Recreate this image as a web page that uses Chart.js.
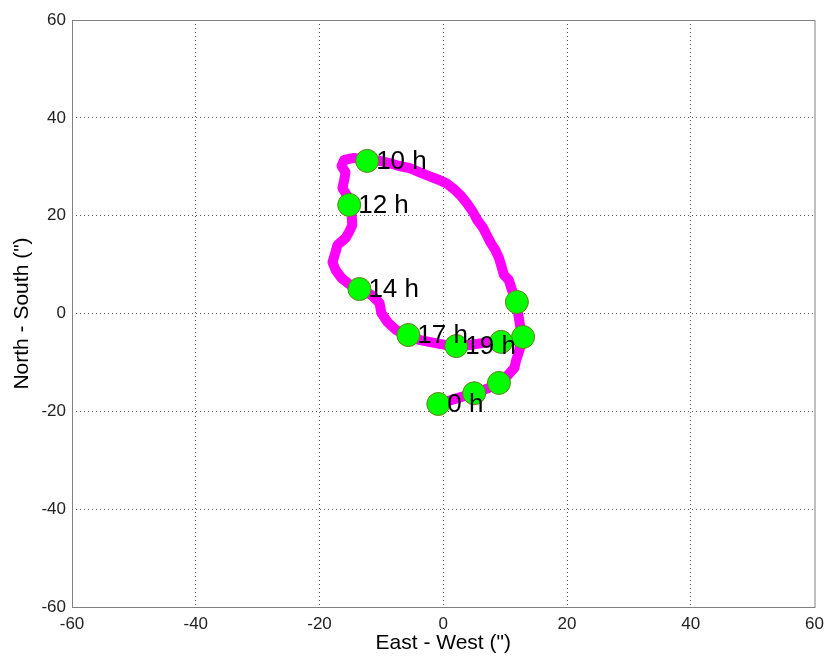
<!DOCTYPE html>
<html>
<head>
<meta charset="utf-8">
<script src="https://cdn.jsdelivr.net/npm/chart.js@4.4.0/dist/chart.umd.min.js"></script>
<style>
  html, body { margin: 0; padding: 0; background: #fff; }
  #wrap { width: 827px; height: 660px; }
</style>
</head>
<body>
<div id="wrap"><canvas id="chart" width="827" height="660"></canvas></div>
<script>
// track of the position (arcsec)
const pathX = [-0.8, 2.3, 5.0, 7.4, 9.0, 10.3, 11.5, 11.8, 12.3, 12.9, 12.4, 12.1, 11.9, 11.1, 10.6, 9.8, 9.35, 9.0,
  8.4, 7.7, 7.1, 6.45, 5.5, 4.8, 3.9, 2.9, 1.9, 0.65, -0.65, -2.3, -3.9, -5.5, -7.1, -8.7, -10.3, -12.3,
  -14.4, -16.0, -16.45, -15.8, -16.0, -16.3, -15.5, -15.2, -14.8, -14.7, -15.2, -15.8, -17.1, -17.4, -17.9,
  -17.4, -16.45, -15.2, -13.55, -11.6, -10.3, -10.0, -9.0, -7.6, -5.65, -3.9, -1.45, 0.5, 2.1, 4.2, 6.6, 9.35];
const pathY = [-18.5, -17.3, -16.3, -15.2, -14.2, -12.8, -11.1, -9.5, -7.5, -4.8, -2.4, 0.1, 2.35, 4.8, 6.85, 7.9, 9.9, 11.35,
  13.0, 14.4, 15.85, 17.5, 19.1, 20.75, 22.4, 24.0, 25.25, 26.5, 27.3, 28.1, 28.9, 29.75, 30.15, 30.75, 31.2, 31.2,
  31.8, 31.4, 30.15, 28.9, 27.3, 25.65, 24.0, 22.2, 20.1, 18.1, 16.7, 15.4, 14.0, 12.6, 10.5,
  8.9, 7.25, 6.0, 5.0, 3.8, 2.15, 0.1, -1.75, -3.4, -4.4, -5.4, -6.0, -6.45, -6.65, -6.45, -6.0, -5.8];

// hour markers
const markerX = [-0.8, 5.0, 9.0, 12.9, 11.9, -12.3, -15.2, -13.55, -5.65, 2.1, 9.35];
const markerY = [-18.5, -16.3, -14.2, -4.8, 2.35, 31.2, 22.2, 5.0, -4.4, -6.65, -5.8];
const markerLabels = ['0 h', '', '', '', '', '10 h', '12 h', '14 h', '17 h', '19 h', ''];

const axisTicks = [-60, -40, -20, 0, 20, 40, 60];

const pathPoints = pathX.map((x, i) => ({ x: x, y: pathY[i] }));
const markerPoints = markerX.map((x, i) => ({ x: x, y: markerY[i] }));

// frame round the plot + hour labels next to markers
const boxAndLabels = {
  id: 'boxAndLabels',
  afterDraw(chart) {
    const ctx = chart.ctx;
    const a = chart.chartArea;
    ctx.save();
    ctx.strokeStyle = '#808080';
    ctx.lineWidth = 1;
    ctx.strokeRect(a.left + 0.5, a.top + 0.5, a.right - a.left, a.bottom - a.top);

    const xs = chart.scales.x, ys = chart.scales.y;
    ctx.fillStyle = '#000';
    ctx.font = '26px "Liberation Sans", Arial, sans-serif';
    ctx.textBaseline = 'middle';
    ctx.textAlign = 'left';
    markerLabels.forEach((lab, i) => {
      if (!lab) return;
      ctx.fillText(lab, xs.getPixelForValue(markerX[i]) + 9, ys.getPixelForValue(markerY[i]) + 1);
    });
    ctx.restore();
  }
};

const tickFont = { family: '"Liberation Sans", Arial, sans-serif', size: 17 };
const titleFont = { family: '"Liberation Sans", Arial, sans-serif', size: 21 };

function gridColor(ctx) {
  const v = ctx.tick && ctx.tick.value;
  return (v === -60 || v === 60) ? 'rgba(0,0,0,0)' : '#555';
}

new Chart(document.getElementById('chart'), {
  type: 'scatter',
  data: {
    datasets: [
      {
        data: markerPoints,
        order: 0,
        showLine: false,
        pointRadius: 11.5,
        pointBackgroundColor: '#00ff00',
        pointBorderColor: '#6b7a1e',
        pointBorderWidth: 1
      },
      {
        data: pathPoints,
        order: 1,
        showLine: true,
        borderColor: '#ff00ff',
        backgroundColor: '#ff00ff',
        borderWidth: 10,
        borderJoinStyle: 'round',
        borderCapStyle: 'round',
        pointRadius: 0,
        tension: 0
      }
    ]
  },
  options: {
    responsive: false,
    animation: false,
    layout: { padding: { top: 20, right: 11, left: 0, bottom: 0 } },
    plugins: { legend: { display: false }, tooltip: { enabled: false } },
    scales: {
      x: {
        type: 'linear',
        min: -60, max: 60,
        afterBuildTicks: s => { s.ticks = axisTicks.map(v => ({ value: v })); },
        afterFit: s => { s.height = 53; s.paddingLeft = 0; s.paddingRight = 0; },
        ticks: { font: tickFont, color: '#222', padding: 7, maxRotation: 0 },
        grid: { color: gridColor, lineWidth: 1, drawTicks: false },
        border: { display: false, dash: [1, 3] },
        title: { display: true, text: 'East - West (")', font: titleFont, color: '#000', padding: { top: 0, bottom: 4 } }
      },
      y: {
        type: 'linear',
        min: -60, max: 60,
        afterBuildTicks: s => { s.ticks = axisTicks.map(v => ({ value: v })); },
        afterFit: s => { s.width = 72; s.paddingTop = 0; s.paddingBottom = 0; },
        ticks: { font: tickFont, color: '#222', padding: 6 },
        grid: { color: gridColor, lineWidth: 1, drawTicks: false },
        border: { display: false, dash: [1, 3] },
        title: { display: true, text: 'North - South (")', font: titleFont, color: '#000', padding: { top: 10, bottom: 0 } }
      }
    }
  },
  plugins: [boxAndLabels]
});
</script>
</body>
</html>
